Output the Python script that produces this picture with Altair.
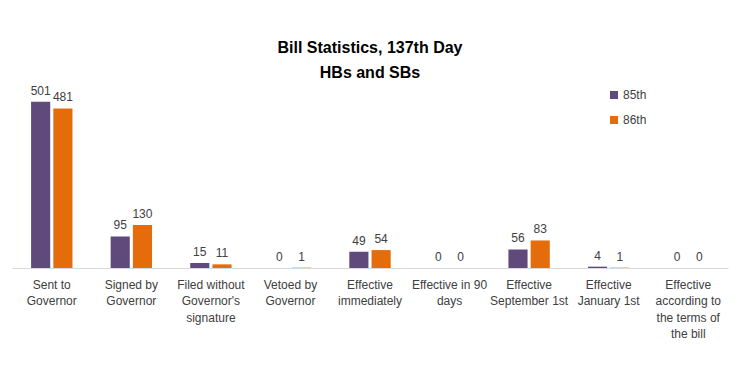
import altair as alt
import pandas as pd

categories = [
    "Sent to\nGovernor",
    "Signed by\nGovernor",
    "Filed without\nGovernor's\nsignature",
    "Vetoed by\nGovernor",
    "Effective\nimmediately",
    "Effective in 90\ndays",
    "Effective\nSeptember 1st",
    "Effective\nJanuary 1st",
    "Effective\naccording to\nthe terms of\nthe bill",
]
series = ["85th", "86th"]
values_85 = [501, 95, 15, 0, 49, 0, 56, 4, 0]
values_86 = [481, 130, 11, 1, 54, 0, 83, 1, 0]
colors = ["#604A7B", "#E46C0A"]

rows = []
for c, a, b in zip(categories, values_85, values_86):
    rows.append({"category": c, "session": series[0], "count": a})
    rows.append({"category": c, "session": series[1], "count": b})
df = pd.DataFrame(rows)

font = "Liberation Sans"

base = alt.Chart(df).encode(
    x=alt.X(
        "category:N",
        sort=categories,
        scale=alt.Scale(paddingInner=0.48, paddingOuter=0.24),
        axis=alt.Axis(
            title=None,
            labelAngle=0,
            labelExpr="split(datum.label, '\\n')",
            labelFont=font,
            labelFontSize=12,
            labelColor="#404040",
            labelLineHeight=16.5,
            labelPadding=11,
            labelLimit=200,
            ticks=False,
            domainColor="#D9D9D9",
            domainWidth=1,
        ),
    ),
    xOffset=alt.XOffset("session:N", sort=series, scale=alt.Scale(paddingInner=0.14)),
)

bars = base.mark_bar().encode(
    y=alt.Y("count:Q", scale=alt.Scale(domain=[0, 600]), axis=None),
    color=alt.Color(
        "session:N",
        sort=series,
        scale=alt.Scale(domain=series, range=colors),
        legend=alt.Legend(
            title=None,
            orient="none",
            legendX=596,
            legendY=20,
            symbolType="square",
            symbolSize=64,
            symbolStrokeWidth=0,
            labelOffset=3,
            labelFont=font,
            labelFontSize=12,
            labelColor="#404040",
            rowPadding=13,
        ),
    ),
)

labels = base.mark_text(dy=-11, font=font, fontSize=12, color="#404040").encode(
    y=alt.Y("count:Q", scale=alt.Scale(domain=[0, 600])),
    text="count:Q",
)

chart = (
    alt.layer(bars, labels)
    .properties(
        width=716,
        height=199,
        autosize=alt.AutoSizeParams(type="none"),
        padding={"left": 4, "top": 61, "right": 8, "bottom": 80},
        title=alt.TitleParams(
            text=["Bill Statistics, 137th Day", "HBs and SBs"],
            font=font,
            fontSize=16,
            fontWeight="bold",
            color="#000000",
            lineHeight=25,
            anchor="middle",
            offset=-12,
        ),
        background="white",
    )
    .configure_view(stroke=None)
)

chart.save("out.html", embed_options={"renderer": "svg", "actions": False})
